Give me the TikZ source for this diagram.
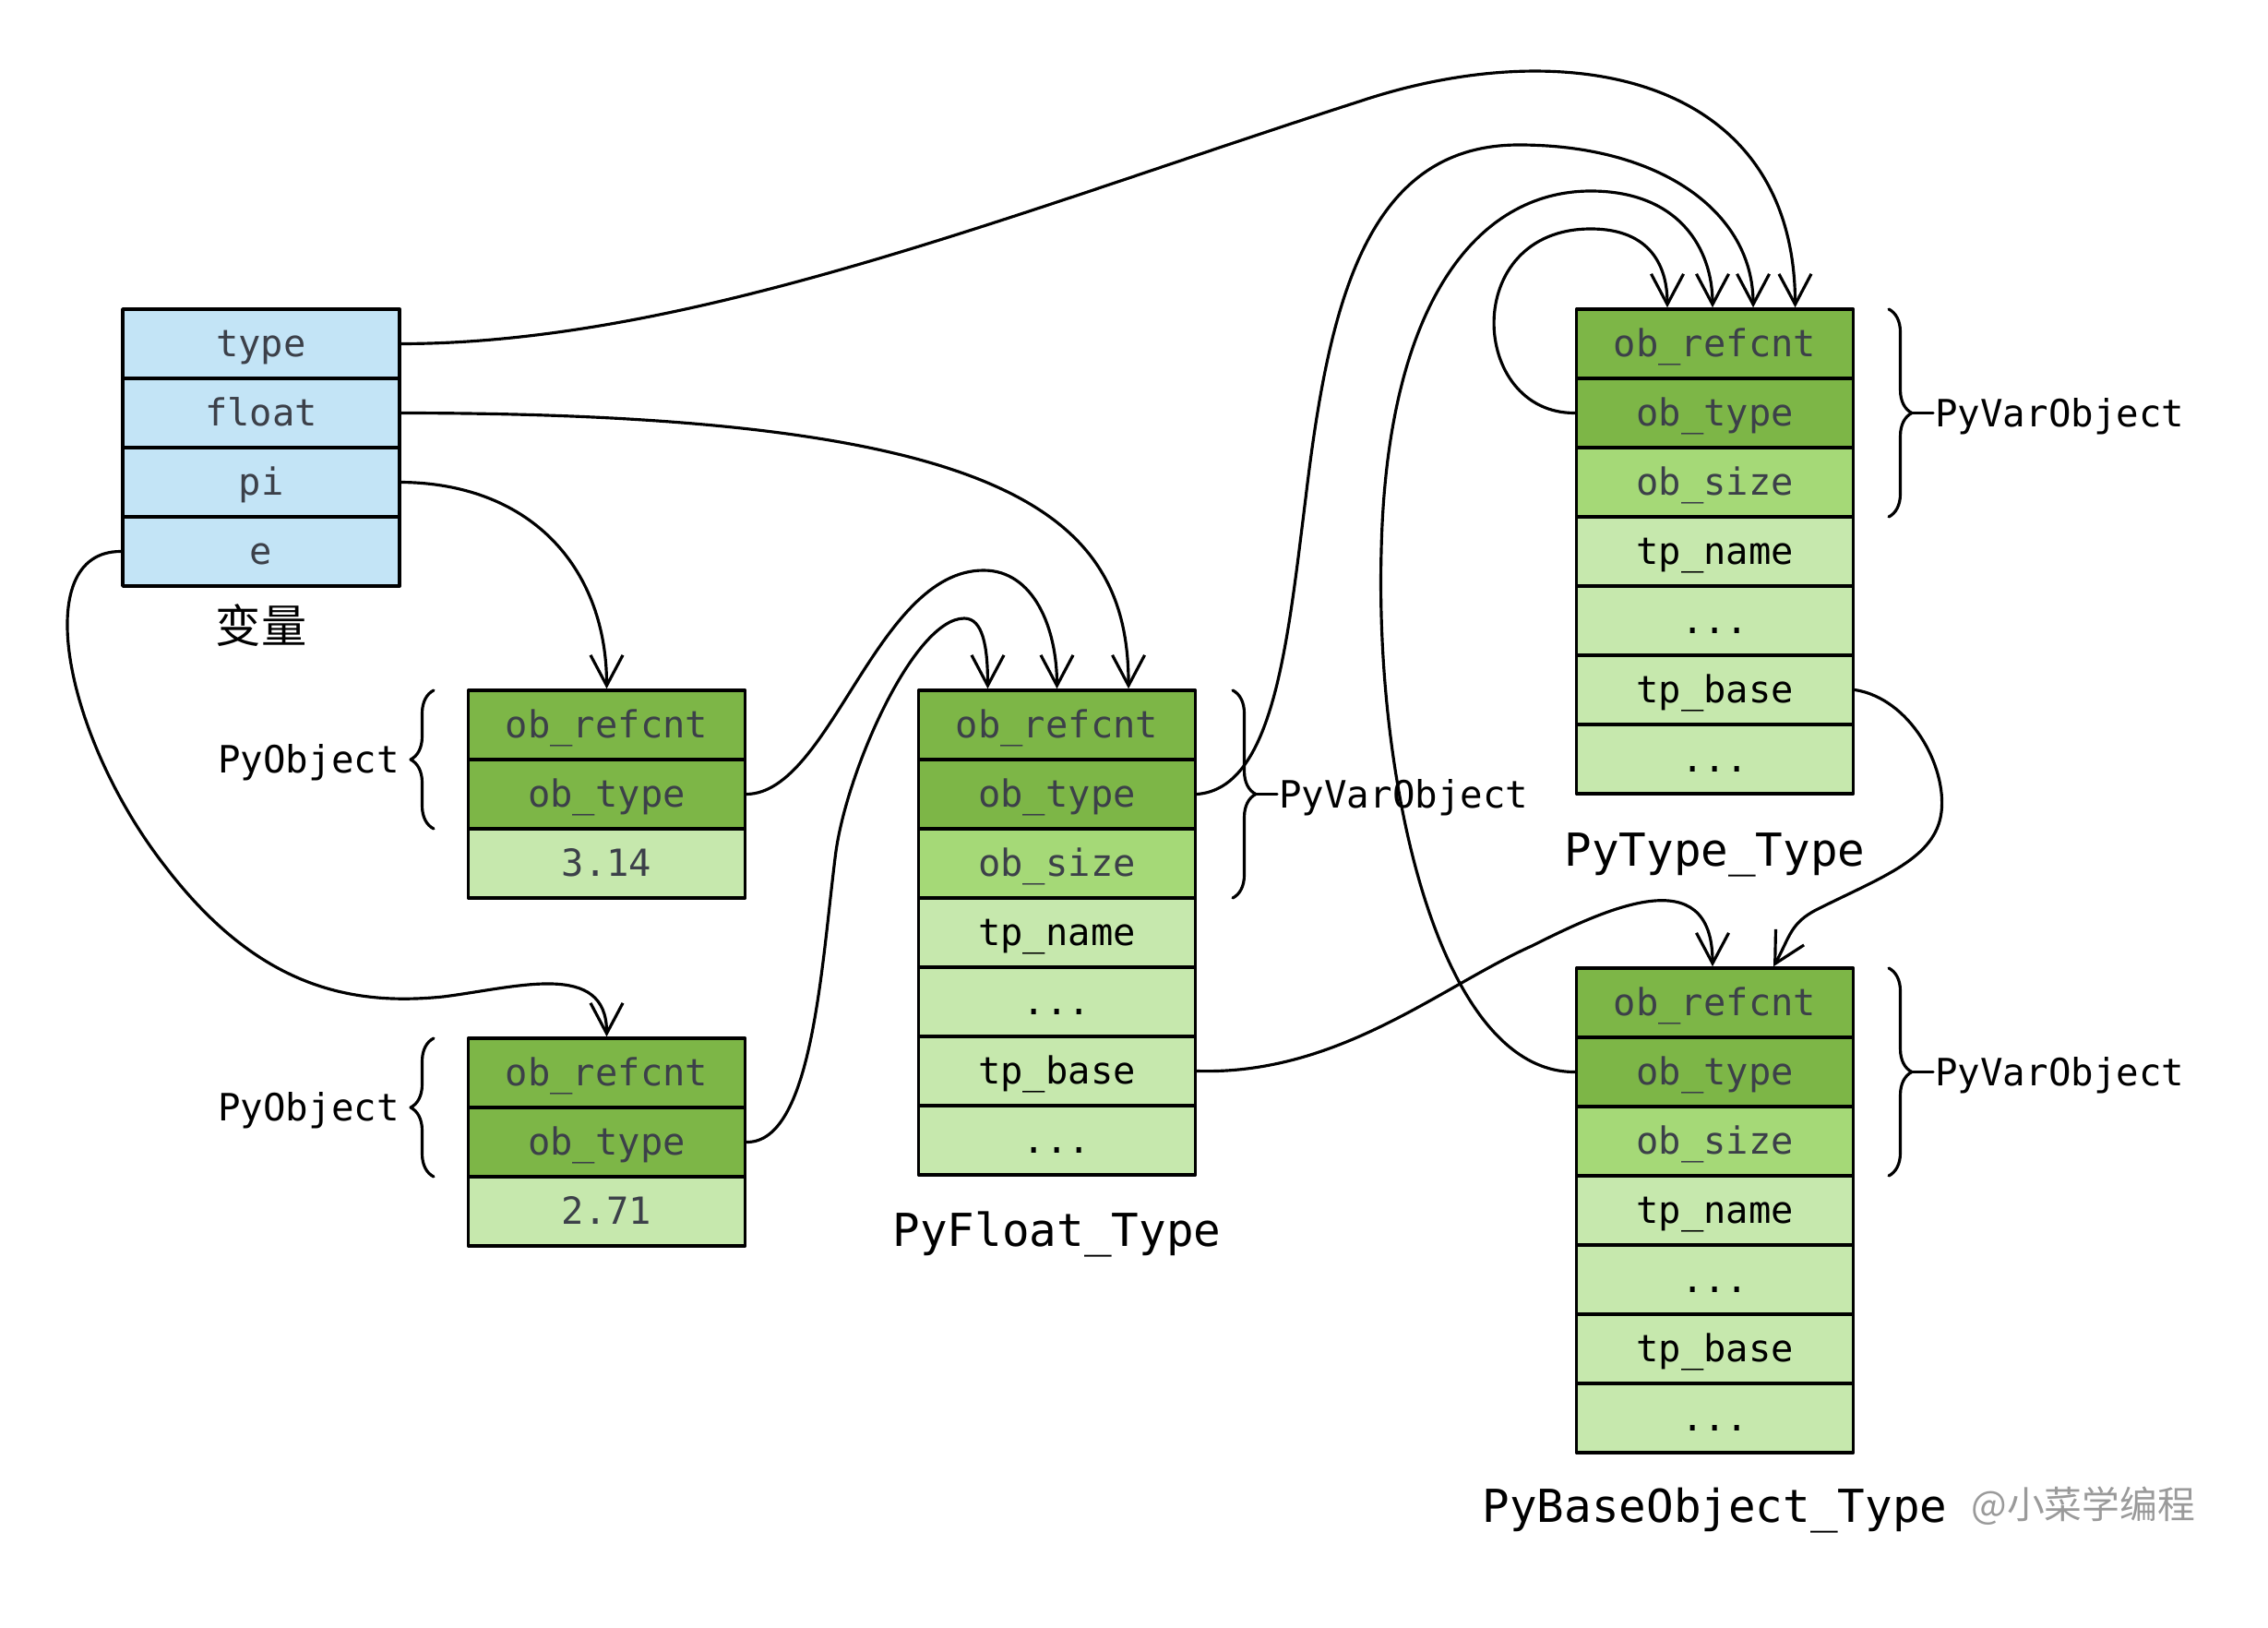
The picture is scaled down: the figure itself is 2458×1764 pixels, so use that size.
\documentclass[tikz,border=0pt]{standalone}
\usepackage{fontspec}
\setmainfont{DejaVu Sans Mono}
\newfontfamily\cjk{Noto Sans CJK SC}
\usetikzlibrary{arrows.meta,decorations.pathreplacing}
\definecolor{varblue}{HTML}{C3E4F6}
\definecolor{hdgreen}{HTML}{7DB647}
\definecolor{midgreen}{HTML}{A5D977}
\definecolor{lightgreen}{HTML}{C6E8AD}
\definecolor{txtgray}{HTML}{3C4049}
\definecolor{wmgray}{HTML}{9A9A9A}
\newcommand{\skipped}{...}
\tikzset{
  cell/.style={draw, line width=1pt, minimum width=3cm, minimum height=0.75cm, inner sep=0pt, text height=0.78em, text depth=0pt, font=\fontsize{11.5}{13}\selectfont},
  link/.style={-{Straight Barb[length=3.3mm,width=3.5mm]}, line width=0.9pt},
  brace/.style={decorate, decoration={brace, amplitude=0.25cm}, line width=0.9pt},
  title/.style={font=\fontsize{14}{16}\selectfont},
  side/.style={font=\fontsize{11.6}{13}\selectfont, inner sep=1pt},
}
\begin{document}
\begin{tikzpicture}[x=0.01cm, y=-0.01cm, line join=round, line cap=round]
	\useasboundingbox (0,0) rectangle (2458,1764);
	\def\h{75} % row height
	% variables
	\foreach \t [count=\i] in {type, float, pi, e}
		\node[cell, fill=varblue, text=txtgray] (var-\i) at (283, {335+\h*\i-\h/2}) {\t};
	\node[font={\cjk\fontsize{14}{16}\selectfont}] (var-lbl) at (283,678) {变量};
	% float objects
	\foreach \t/\c [count=\i] in {ob\_refcnt/hdgreen, ob\_type/hdgreen, 3.14/lightgreen}
		\node[cell, fill=\c, text=txtgray] (f1-\i) at (657.5, {748+\h*\i-\h/2}) {\t};
	\foreach \t/\c [count=\i] in {ob\_refcnt/hdgreen, ob\_type/hdgreen, 2.71/lightgreen}
		\node[cell, fill=\c, text=txtgray] (f2-\i) at (657.5, {1125+\h*\i-\h/2}) {\t};
	% type objects
	\foreach \n/\x/\y in {ft/1145.5/748, tt/1858.5/335, bt/1858.5/1049}
		\foreach \t/\c/\k [count=\i] in {ob\_refcnt/hdgreen/txtgray, ob\_type/hdgreen/txtgray, ob\_size/midgreen/txtgray, tp\_name/lightgreen/black, \skipped/lightgreen/black, tp\_base/lightgreen/black, \skipped/lightgreen/black}
			\node[cell, fill=\c, text=\k] (\n-\i) at (\x, {\y+\h*\i-\h/2}) {\t};
	\node[title] (ft-lbl) at (1145.5,1337) {PyFloat\_Type};
	\node[title] (tt-lbl) at (1858.5,926) {PyType\_Type};
	\node[title] (bt-lbl) at (1858.5,1637) {PyBaseObject\_Type};
	\node[font={\cjk\fontsize{11.6}{14}\selectfont}, text=wmgray, anchor=west] (mark) at (2124,1632) {@小菜学编程};
	% braces
	\draw[brace] (470,898) -- (470,748);
	\node[side, anchor=east] (po-1) at (437,826) {PyObject};
	\draw[brace] (470,1275) -- (470,1125);
	\node[side, anchor=east] (po-2) at (437,1203) {PyObject};
	\draw[brace] (1336,748) -- (1336,973);
	\node[side, anchor=west] (pv-1) at (1382,864) {PyVarObject};
	\draw[line width=0.9pt] (1361,860.5) -- (1384,860.5);
	\draw[brace] (2047,335) -- (2047,560);
	\node[side, anchor=west] (pv-2) at (2093,451) {PyVarObject};
	\draw[line width=0.9pt] (2072,447.5) -- (2095,447.5);
	\draw[brace] (2047,1049) -- (2047,1274);
	\node[side, anchor=west] (pv-3) at (2093,1165) {PyVarObject};
	\draw[line width=0.9pt] (2072,1161.5) -- (2095,1161.5);
	% references
	\draw[link] (var-1.east) .. controls (750,372) and (1100,230) .. (1473,110) .. controls (1697,35) and (1945,80) .. ([xshift=0.87cm]tt-1.north);
	\draw[link] (var-2.east) .. controls (1100,448) and (1223,560) .. ([xshift=0.775cm]ft-1.north);
	\draw[link] (var-3.east) .. controls (580,524) and (657.5,620) .. (f1-1.north);
	\draw[link] (var-4.west) .. controls (30,597) and (70,800) .. (180,940) .. controls (280,1070) and (380,1090) .. (480,1080) .. controls (560,1070) and (657.5,1040) .. (f2-1.north);
	\draw[link] (f1-2.east) .. controls (900,859) and (950,618) .. (1066,618) .. controls (1120,618) and (1145.5,680) .. (ft-1.north);
	\draw[link] (f2-2.east) .. controls (880,1238) and (890,1050) .. (905,930) .. controls (915,840) and (990,670) .. (1045,670) .. controls (1065,670) and (1070.5,700) .. ([xshift=-0.75cm]ft-1.north);
	\draw[link] (ft-2.east) .. controls (1380,854) and (1395,700) .. (1415,540) .. controls (1440,330) and (1480,157) .. (1646,157) .. controls (1800,157) and (1900,230) .. ([xshift=0.415cm]tt-1.north);
	\draw[link] (bt-2.west) .. controls (1560,1162) and (1490,850) .. (1497,596) .. controls (1503,330) and (1600,207) .. (1724,207) .. controls (1820,207) and (1856,270) .. ([xshift=-0.025cm]tt-1.north);
	\draw[link] (tt-2.west) .. controls (1592,448) and (1582,248) .. (1724,248) .. controls (1790,248) and (1807,290) .. ([xshift=-0.515cm]tt-1.north);
	\draw[link] (ft-6.east) .. controls (1450,1165) and (1560,1070) .. (1660,1025) .. controls (1740,985) and (1856,930) .. ([xshift=-0.025cm]bt-1.north);
	\draw[link] (tt-6.east) .. controls (2070,757) and (2110,830) .. (2104,880) .. controls (2098,930) and (2040,950) .. (1970,985) .. controls (1940,1000) and (1940,1015) .. ([xshift=0.635cm]bt-1.north);
\end{tikzpicture}
\end{document}
